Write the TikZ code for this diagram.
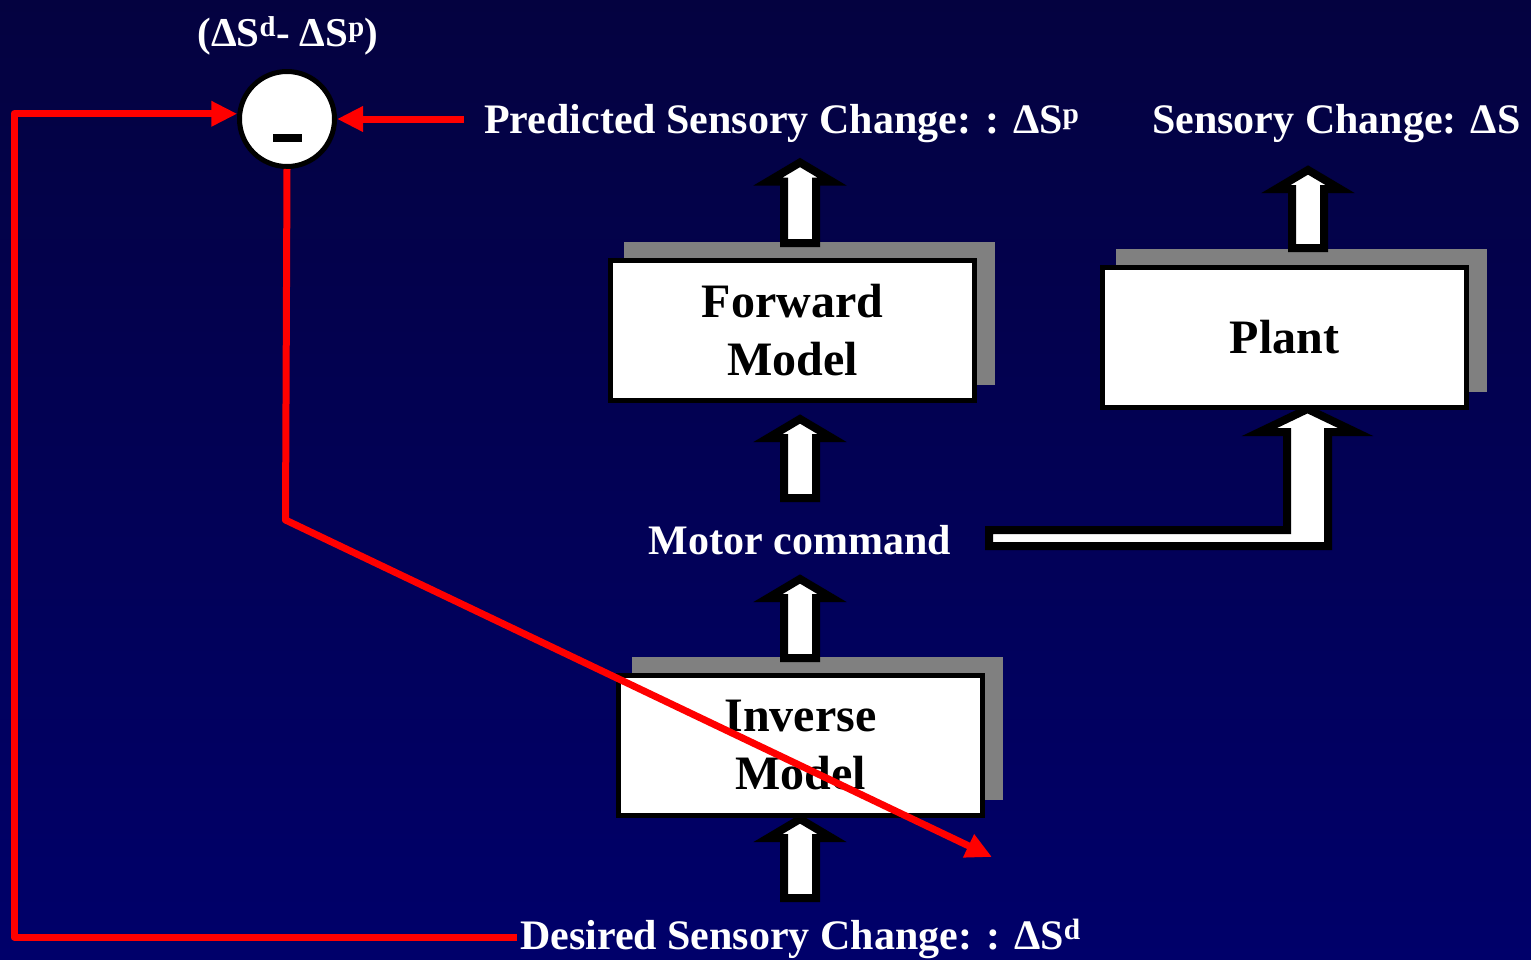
\documentclass[tikz,border=0pt]{standalone}
\usepackage{fontspec}
\setmainfont{Liberation Serif}
\usetikzlibrary{arrows.meta,calc,shadows}
\definecolor{bgtop}{RGB}{4,2,64}
\definecolor{bgbot}{RGB}{0,0,106}
\definecolor{shadowgray}{RGB}{128,128,128}
\newcommand{\blkarrow}[2]{%
  \draw[blockarrow] let \p1=(#1), \p2=(#2) in
    ({\x1-16pt},\y1) -- ({\x1-16pt},{\y2-19pt}) -- ({\x1-32pt},{\y2-19pt}) -- (\x1,\y2)
    -- ({\x1+32pt},{\y2-19pt}) -- ({\x1+16pt},{\y2-19pt}) -- ({\x1+16pt},\y1) -- cycle;}
\tikzset{
  blockarrow/.style={draw=black, line width=8pt, fill=white},
  box/.style={draw=black, line width=5.5pt, fill=white, minimum width=364pt, minimum height=140pt,
    font=\fontsize{48}{58}\selectfont\bfseries, align=center, inner sep=0pt,
    drop shadow={shadow xshift=17pt, shadow yshift=17pt, fill=shadowgray, opacity=1, shadow scale=1.02}},
  lbl/.style={text=white, font=\fontsize{42}{50}\selectfont\bfseries, inner sep=0pt},
  redline/.style={draw=red, line width=7pt, line join=round},
  redtip/.style={-{Triangle[length=26pt,width=24pt]}}
}
\begin{document}
\begin{tikzpicture}[x=1pt,y=-1pt]
\useasboundingbox (0,0) rectangle (1531,959);
\shade[top color=bgtop, bottom color=bgbot] (0,0) rectangle (1531,959);

% bent block arrow: motor command -> plant
\coordinate (ms) at (989,538);
\coordinate (pt) at (1307.5,409);
\draw[blockarrow] let \p1=(ms), \p2=(pt) in
  (\x1,{\y1+8pt}) -- ({\x2-20.5pt},{\y1+8pt}) -- ({\x2-20.5pt},{\y2-23pt}) -- ({\x2-48pt},{\y2-23pt})
  -- (\x2,\y2) -- ({\x2+48pt},{\y2-23pt}) -- ({\x2+20.5pt},{\y2-23pt}) -- ({\x2+20.5pt},{\y1-8pt})
  -- (\x1,{\y1-8pt}) -- cycle;

% boxes
\node[box] (fwd) at (792.5,330.5) {Forward\\Model};
\node[box] (plant) at (1284.5,337.5) {Plant};
\node[box] (inv) at (800.5,745.5) {Inverse\\Model};

% straight block arrows
\coordinate (a1b) at (800,243);   \coordinate (a1t) at (800,162.5);
\coordinate (a2b) at (800,498);   \coordinate (a2t) at (800,419);
\coordinate (a3b) at (800,658);   \coordinate (a3t) at (800,579);
\coordinate (a4b) at (800,898);   \coordinate (a4t) at (800,819);
\coordinate (a5b) at (1308,248);  \coordinate (a5t) at (1308,170);
\blkarrow{a1b}{a1t}
\blkarrow{a2b}{a2t}
\blkarrow{a3b}{a3t}
\blkarrow{a4b}{a4t}
\blkarrow{a5b}{a5t}

% labels
\node[lbl, anchor=base west] (pred) at (484,133) {Predicted Sensory Change: : ΔS\textsuperscript{p}};
\node[lbl, anchor=base west] (sens) at (1152,133) {Sensory Change: ΔS};
\node[lbl, anchor=base] (motor) at (800,554) {Motor command};
\node[lbl, anchor=base west] (desired) at (520,949) {Desired Sensory Change: : ΔS\textsuperscript{d}};
\node[lbl, anchor=base, font=\fontsize{41}{48}\selectfont\bfseries] (diff) at (288,46) {(ΔS\textsuperscript{d}- ΔS\textsuperscript{p})};

% summing junction
\node[circle, draw=black, line width=5pt, fill=white, minimum size=95pt, inner sep=0pt] (sum) at (287,119) {};
\fill[black] ($(sum.center)+(-14.5,15)$) rectangle ++(29,8);

% red connectors
\coordinate (pstart) at ($(pred.base west)+(-20,0)$);
\draw[redline, redtip] (pstart |- sum.east) -- (sum.east);
\coordinate (lc) at (14,937);
\coordinate (dstart) at ($(desired.base west)+(-3,0)$);
\draw[redline, redtip] (dstart |- lc) -- (lc) |- (sum.174);
\coordinate (bend) at (285.5,520);
\coordinate (dend) at (992,857);
\draw[redline, redtip] (sum.south) -- (bend) -- (dend);
\end{tikzpicture}
\end{document}
